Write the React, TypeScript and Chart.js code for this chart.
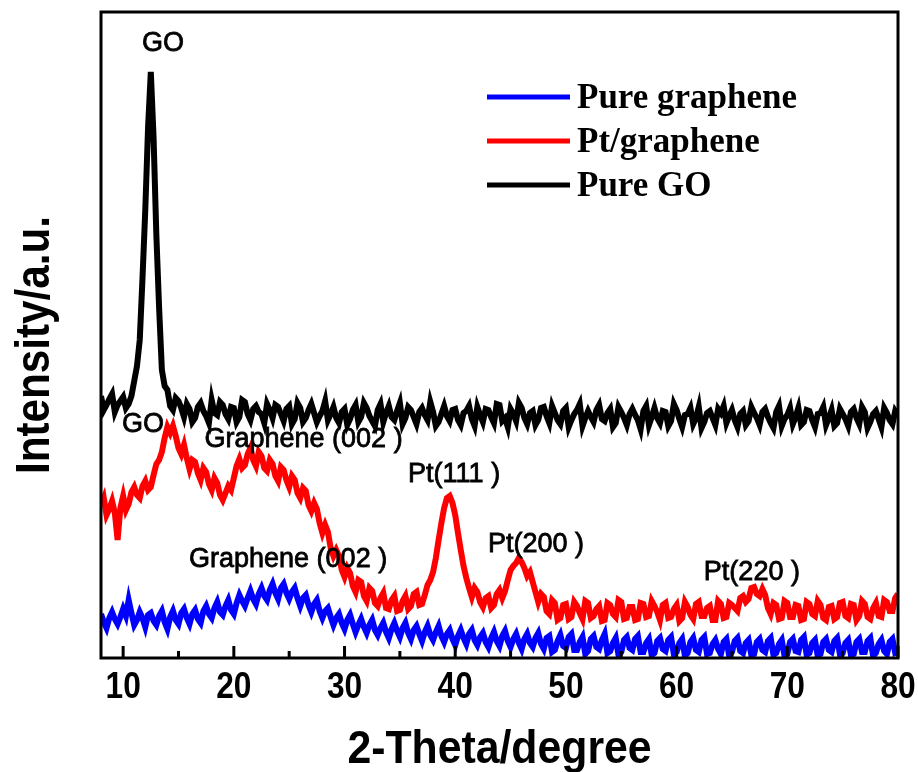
import React, { useEffect, useRef } from "react";
import { Chart, registerables } from "chart.js";

Chart.register(...registerables);

// 2-theta positions (degrees), 0.25 degree step
const twoTheta = [
  8, 8.25, 8.5, 8.75, 9, 9.25, 9.5, 9.75,
  10, 10.25, 10.5, 10.75, 11, 11.25, 11.5, 11.75,
  12, 12.25, 12.5, 12.75, 13, 13.25, 13.5, 13.75,
  14, 14.25, 14.5, 14.75, 15, 15.25, 15.5, 15.75,
  16, 16.25, 16.5, 16.75, 17, 17.25, 17.5, 17.75,
  18, 18.25, 18.5, 18.75, 19, 19.25, 19.5, 19.75,
  20, 20.25, 20.5, 20.75, 21, 21.25, 21.5, 21.75,
  22, 22.25, 22.5, 22.75, 23, 23.25, 23.5, 23.75,
  24, 24.25, 24.5, 24.75, 25, 25.25, 25.5, 25.75,
  26, 26.25, 26.5, 26.75, 27, 27.25, 27.5, 27.75,
  28, 28.25, 28.5, 28.75, 29, 29.25, 29.5, 29.75,
  30, 30.25, 30.5, 30.75, 31, 31.25, 31.5, 31.75,
  32, 32.25, 32.5, 32.75, 33, 33.25, 33.5, 33.75,
  34, 34.25, 34.5, 34.75, 35, 35.25, 35.5, 35.75,
  36, 36.25, 36.5, 36.75, 37, 37.25, 37.5, 37.75,
  38, 38.25, 38.5, 38.75, 39, 39.25, 39.5, 39.75,
  40, 40.25, 40.5, 40.75, 41, 41.25, 41.5, 41.75,
  42, 42.25, 42.5, 42.75, 43, 43.25, 43.5, 43.75,
  44, 44.25, 44.5, 44.75, 45, 45.25, 45.5, 45.75,
  46, 46.25, 46.5, 46.75, 47, 47.25, 47.5, 47.75,
  48, 48.25, 48.5, 48.75, 49, 49.25, 49.5, 49.75,
  50, 50.25, 50.5, 50.75, 51, 51.25, 51.5, 51.75,
  52, 52.25, 52.5, 52.75, 53, 53.25, 53.5, 53.75,
  54, 54.25, 54.5, 54.75, 55, 55.25, 55.5, 55.75,
  56, 56.25, 56.5, 56.75, 57, 57.25, 57.5, 57.75,
  58, 58.25, 58.5, 58.75, 59, 59.25, 59.5, 59.75,
  60, 60.25, 60.5, 60.75, 61, 61.25, 61.5, 61.75,
  62, 62.25, 62.5, 62.75, 63, 63.25, 63.5, 63.75,
  64, 64.25, 64.5, 64.75, 65, 65.25, 65.5, 65.75,
  66, 66.25, 66.5, 66.75, 67, 67.25, 67.5, 67.75,
  68, 68.25, 68.5, 68.75, 69, 69.25, 69.5, 69.75,
  70, 70.25, 70.5, 70.75, 71, 71.25, 71.5, 71.75,
  72, 72.25, 72.5, 72.75, 73, 73.25, 73.5, 73.75,
  74, 74.25, 74.5, 74.75, 75, 75.25, 75.5, 75.75,
  76, 76.25, 76.5, 76.75, 77, 77.25, 77.5, 77.75,
  78, 78.25, 78.5, 78.75, 79, 79.25, 79.5, 79.75,
  80,
];

// Intensity (a.u., curves offset as in the figure)
const pureGraphene = [
  44, 36, 30, 40, 46, 39, 34, 41,
  49, 42, 58, 45, 33, 38, 46, 40,
  31, 43, 45, 37, 33, 42, 47, 36,
  29, 41, 47, 38, 34, 45, 49, 40,
  34, 44, 48, 39, 35, 47, 52, 44,
  40, 50, 56, 46, 43, 52, 58, 48,
  44, 55, 63, 57, 52, 60, 67, 59,
  54, 64, 70, 62, 58, 68, 74, 65,
  59, 70, 74, 65, 59, 66, 70, 60,
  52, 60, 63, 53, 46, 54, 58, 47,
  40, 47, 50, 41, 33, 40, 44, 35,
  29, 38, 43, 34, 26, 33, 39, 31,
  25, 33, 38, 28, 23, 30, 35, 26,
  20, 29, 35, 27, 21, 30, 35, 25,
  19, 28, 32, 24, 17, 26, 32, 23,
  18, 26, 32, 22, 16, 24, 28, 19,
  13, 22, 28, 20, 14, 24, 28, 18,
  13, 21, 25, 16, 11, 20, 26, 17,
  12, 22, 27, 17, 11, 19, 24, 15,
  9, 19, 24, 15, 11, 20, 25, 14,
  9, 20, 22, 6, 8, 17, 23, 12,
  10, 21, 24, 8, 8, 16, 21, 4,
  7, 19, 22, 11, 9, 18, 24, 5,
  7, 15, 20, 3, 6, 18, 21, 10,
  8, 19, 22, 6, 6, 15, 19, 3,
  5, 17, 20, 9, 7, 18, 21, 4,
  6, 15, 19, 2, 5, 16, 20, 8,
  6, 18, 21, 4, 5, 14, 18, 9,
  4, 16, 19, 2, 6, 17, 20, 7,
  5, 15, 18, 3, 4, 16, 19, 8,
  6, 17, 20, 3, 5, 14, 18, 2,
  4, 16, 19, 7, 6, 18, 21, 3,
  5, 15, 18, 2, 4, 16, 19, 8,
  6, 17, 20, 4, 5, 15, 18, 3,
  4, 16, 19, 6, 6, 17, 20, 2,
  5, 14, 18, 7, 4, 16, 19, 5,
  6,
];

const ptGraphene = [
  153, 160, 143, 149, 157, 145, 118, 150,
  162, 148, 154, 166, 171, 163, 160, 172,
  177, 168, 171, 183, 194, 198, 206, 220,
  231, 225, 232, 222, 210, 204, 213, 200,
  189, 198, 196, 185, 178, 190, 186, 174,
  168, 180, 175, 163, 158, 165, 172, 168,
  180, 192, 199, 190, 193, 204, 210, 198,
  192, 206, 202, 190, 187, 198, 194, 182,
  177, 191, 188, 178, 171, 182, 178, 165,
  160, 170, 167, 153, 147, 155, 149, 135,
  125, 133, 126, 110, 102, 108, 102, 88,
  81, 90, 85, 72, 66, 78, 76, 62,
  57, 70, 67, 55, 52, 60, 65, 50,
  49, 58, 62, 47, 48, 57, 62, 49,
  52, 64, 66, 53, 54, 63, 73, 78,
  86, 100, 118, 135, 150, 160, 162, 155,
  143, 125, 108, 92, 80, 70, 61, 70,
  66, 56, 51, 60, 62, 50, 53, 64,
  68, 60, 67, 78, 88, 92, 95, 100,
  96, 90, 82, 86, 76, 66, 56, 64,
  61, 47, 44, 58, 55, 38, 40, 53,
  54, 39, 41, 56, 52, 45, 39, 57,
  55, 40, 42, 49, 52, 37, 38, 55,
  53, 44, 41, 58, 56, 39, 40, 51,
  51, 38, 39, 55, 54, 41, 42, 57,
  52, 46, 38, 53, 55, 40, 41, 49,
  53, 37, 40, 56, 51, 43, 39, 54,
  56, 42, 42, 50, 52, 38, 38, 57,
  54, 40, 41, 55, 53, 50, 47, 60,
  62, 56, 59, 70, 71, 64, 62, 69,
  63, 50, 44, 55, 53, 39, 40, 57,
  55, 41, 41, 53, 52, 38, 39, 56,
  54, 44, 42, 57, 53, 40, 38, 51,
  52, 39, 41, 55, 56, 42, 40, 54,
  53, 38, 42, 57, 54, 41, 39, 50,
  55, 42, 41, 58, 56, 47, 47, 60,
  64,
];

const pureGO = [
  262, 248, 253, 259, 264, 246, 253, 257,
  261, 250, 254, 262, 277, 292, 318, 380,
  448, 530, 586, 520, 423, 350, 288, 272,
  268, 252, 248, 260, 257, 250, 241, 254,
  249, 236, 240, 251, 255, 247, 242, 235,
  258, 245, 243, 256, 253, 244, 239, 251,
  250, 236, 241, 258, 256, 244, 238, 249,
  252, 246, 244, 235, 254, 248, 240, 253,
  251, 244, 237, 249, 252, 234, 239, 255,
  250, 236, 240, 248, 254, 245, 236, 242,
  247, 257, 238, 244, 251, 240, 235, 246,
  249, 233, 239, 248, 253, 236, 241, 255,
  250, 242, 237, 232, 248, 254, 236, 245,
  252, 241, 238, 247, 255, 234, 240, 251,
  248, 241, 234, 246, 250, 243, 238, 256,
  246, 232, 236, 244, 252, 242, 237, 248,
  249, 238, 233, 245, 247, 252, 239, 232,
  251, 243, 236, 249, 248, 241, 235, 254,
  253, 237, 240, 231, 249, 244, 237, 255,
  250, 240, 234, 245, 247, 233, 238, 250,
  251, 242, 235, 252, 245, 238, 234, 247,
  250, 231, 238, 244, 248, 254, 232, 240,
  247, 241, 236, 248, 253, 239, 237, 245,
  249, 231, 235, 251, 246, 240, 233, 244,
  249, 243, 238, 229, 247, 252, 233, 241,
  250, 240, 235, 247, 246, 232, 237, 254,
  248, 239, 231, 243, 244, 250, 234, 240,
  251, 230, 236, 245, 247, 240, 233, 249,
  245, 252, 235, 242, 248, 238, 231, 244,
  247, 233, 237, 251, 245, 240, 233, 246,
  249, 241, 235, 230, 246, 252, 232, 239,
  243, 250, 234, 241, 250, 233, 236, 248,
  247, 238, 231, 244, 245, 251, 233, 240,
  248, 232, 235, 249, 244, 239, 232, 246,
  249, 240, 234, 251, 246, 230, 236, 244,
  247, 239, 231, 250, 245, 238, 234, 247,
  243,
];

const seriesNames = ["Pure graphene", "Pt/graphene", "Pure GO"];
const seriesColors = ["#0000ff", "#ff0000", "#000000"];

const xMajorTicks = [10, 20, 30, 40, 50, 60, 70, 80];
const xMinorTicks = [15, 25, 35, 45, 55, 65, 75];

const peakLabels = ["GO", "GO", "Graphene (002 )", "Graphene (002 )", "Pt(111 )", "Pt(200 )", "Pt(220 )"];
const peakLabelX = [13.6, 11.8, 26.3, 24.9, 39.9, 47.3, 66.8];
const peakLabelY = [614, 233, 218, 98, 183, 113, 85];

const xTitle = "2-Theta/degree";
const yTitle = "Intensity/a.u.";

const SANS = '"Liberation Sans", Arial, Helvetica, sans-serif';
const SERIF = '"Liberation Serif", "Times New Roman", Times, serif';

const decorPlugin = {
  id: "decor",
  afterDatasetsDraw(chart: any) {
    const { ctx, chartArea: a, scales } = chart;
    const xs = scales.x;
    const ys = scales.y;
    ctx.save();
    ctx.strokeStyle = "#000";
    ctx.fillStyle = "#000";
    ctx.lineWidth = 3;
    ctx.strokeRect(a.left, a.top, a.right - a.left, a.bottom - a.top);

    // inward ticks on bottom axis
    ctx.beginPath();
    xMajorTicks.forEach((v) => {
      const px = xs.getPixelForValue(v);
      ctx.moveTo(px, a.bottom);
      ctx.lineTo(px, a.bottom - 12);
    });
    xMinorTicks.forEach((v) => {
      const px = xs.getPixelForValue(v);
      ctx.moveTo(px, a.bottom);
      ctx.lineTo(px, a.bottom - 7);
    });
    ctx.stroke();

    // tick labels
    ctx.font = `bold 36px ${SANS}`;
    ctx.textAlign = "center";
    ctx.textBaseline = "alphabetic";
    xMajorTicks.forEach((v) => {
      const px = xs.getPixelForValue(v);
      ctx.save();
      ctx.translate(px, a.bottom + 40);
      ctx.scale(0.88, 1);
      ctx.fillText(String(v), 0, 0);
      ctx.restore();
    });

    // x title
    ctx.save();
    ctx.font = `bold 47px ${SANS}`;
    ctx.translate((a.left + a.right) / 2, a.bottom + 105);
    ctx.scale(0.91, 1);
    ctx.fillText(xTitle, 0, 0);
    ctx.restore();

    // y title
    ctx.save();
    ctx.font = `bold 48px ${SANS}`;
    ctx.translate(49, 345);
    ctx.rotate(-Math.PI / 2);
    ctx.scale(0.88, 1);
    ctx.fillText(yTitle, 0, 0);
    ctx.restore();

    // peak annotations
    ctx.font = `27px ${SANS}`;
    ctx.textBaseline = "middle";
    ctx.lineWidth = 0.8;
    ctx.strokeStyle = "#000";
    peakLabels.forEach((t, i) => {
      const px = xs.getPixelForValue(peakLabelX[i]);
      const py = ys.getPixelForValue(peakLabelY[i]);
      ctx.fillText(t, px, py);
      ctx.strokeText(t, px, py);
    });

    // legend
    ctx.textAlign = "left";
    ctx.textBaseline = "alphabetic";
    ctx.font = `bold 35px ${SERIF}`;
    chart.data.datasets.forEach((ds: any, i: number) => {
      const ly = 97 + i * 44;
      ctx.strokeStyle = ds.borderColor;
      ctx.lineWidth = 5;
      ctx.beginPath();
      ctx.moveTo(487, ly);
      ctx.lineTo(570, ly);
      ctx.stroke();
      ctx.fillStyle = "#000";
      ctx.fillText(ds.label, 577, ly + 11);
    });
    ctx.restore();
  },
};

export default function App() {
  const ref = useRef<HTMLCanvasElement | null>(null);

  useEffect(() => {
    if (!ref.current) return;
    const series = [pureGraphene, ptGraphene, pureGO];
    const chart = new Chart(ref.current, {
      type: "line",
      data: {
        datasets: series.map((vals, i) => ({
          label: seriesNames[i],
          data: twoTheta.map((t, j) => ({ x: t, y: vals[j] })),
          borderColor: seriesColors[i],
          backgroundColor: seriesColors[i],
          borderWidth: 6,
          borderJoinStyle: "miter",
          pointRadius: 0,
          tension: 0,
          fill: false,
        })),
      },
      options: {
        animation: false,
        responsive: false,
        layout: { padding: { left: 101, right: 20, top: 12, bottom: 114 } },
        plugins: {
          legend: { display: false },
          tooltip: { enabled: false },
        },
        scales: {
          x: { type: "linear", min: 8, max: 80, display: false },
          y: { type: "linear", min: 0, max: 646, display: false },
        },
      },
      plugins: [decorPlugin],
    });
    return () => chart.destroy();
  }, []);

  return (
    <div style={{ position: "fixed", left: 0, top: 0, width: 918, height: 772, background: "#fff" }}>
      <canvas ref={ref} width={918} height={772} style={{ display: "block" }} />
    </div>
  );
}
